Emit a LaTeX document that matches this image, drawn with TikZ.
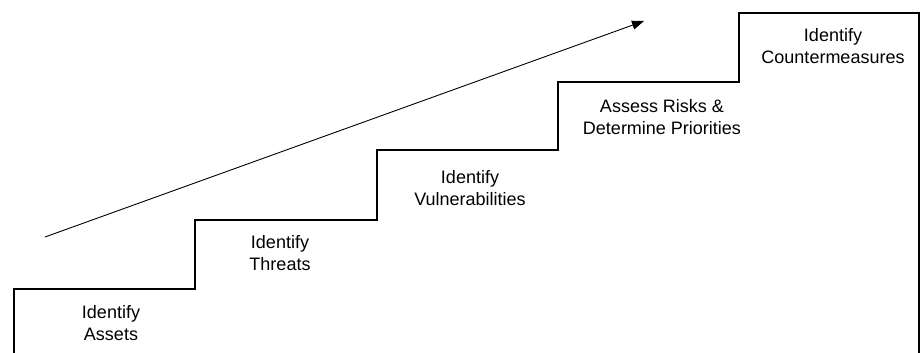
\documentclass[tikz,border=0pt]{standalone}
\usepackage{fontspec}
\setmainfont{Liberation Sans}
\usetikzlibrary{arrows.meta}

\begin{document}
\begin{tikzpicture}[x=1pt, y=-1pt, every node/.style={align=center, inner sep=0pt, font=\fontsize{18}{22}\selectfont}, every path/.style={line join=miter}]

    \useasboundingbox (0,0) rectangle (920,353);

    \draw[line width=1.5pt]
        (14,354) -- (14,289) -- (195,289) -- (195,220) -- (377,220) -- (377,150)
        -- (558,150) -- (558,82) -- (739,82) -- (739,13) -- (919,13) -- (919,354);

    \coordinate (start) at (45,237);
    \coordinate (end) at (644,21);
    \draw[line width=0.9pt, -{Triangle[length=12pt, width=9pt]}] (start) to (end);

    \node (assets) at (111,323) {Identify\\Assets};
    \node (threats) at (280,253) {Identify\\Threats};
    \node (vulns) at (470,188) {Identify\\Vulnerabilities};
    \node (risks) at (662,117) {Assess Risks \&\\Determine Priorities};
    \node (counter) at (833,46) {Identify\\Countermeasures};

\end{tikzpicture}
\end{document}
